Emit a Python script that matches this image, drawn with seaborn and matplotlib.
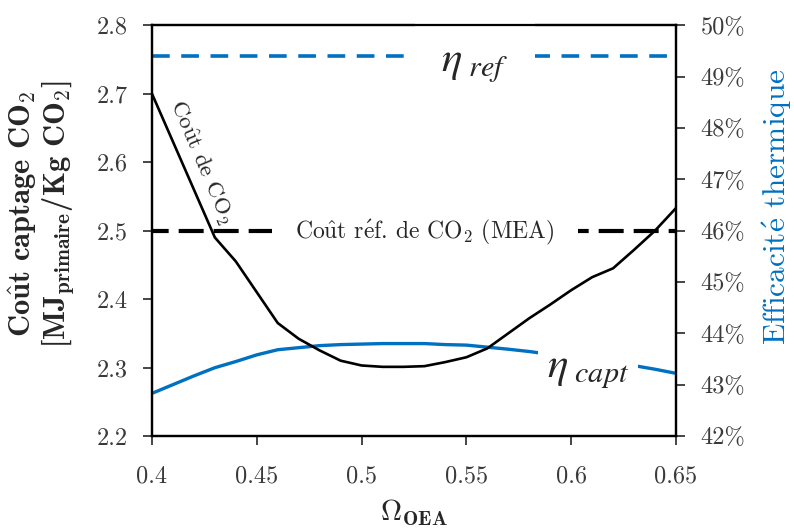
import numpy as np
import pandas as pd
import seaborn as sns
import matplotlib.pyplot as plt
from matplotlib.ticker import FuncFormatter, MultipleLocator

# data
omega = [0.40, 0.41, 0.42, 0.43, 0.44, 0.45, 0.46, 0.47, 0.48, 0.49, 0.50, 0.51, 0.52,
         0.53, 0.54, 0.55, 0.56, 0.57, 0.58, 0.59, 0.60, 0.61, 0.62, 0.63, 0.64, 0.65]
cout_co2 = [2.700, 2.630, 2.560, 2.490, 2.455, 2.410, 2.365, 2.342, 2.325, 2.310, 2.303, 2.301, 2.301,
            2.302, 2.308, 2.315, 2.328, 2.350, 2.372, 2.392, 2.413, 2.432, 2.445, 2.472, 2.500, 2.533]
eta_capt = [42.83, 43.00, 43.17, 43.33, 43.45, 43.58, 43.68, 43.72, 43.76, 43.78, 43.79, 43.80, 43.80,
            43.80, 43.78, 43.77, 43.73, 43.69, 43.645, 43.59, 43.535, 43.48, 43.425, 43.37, 43.30, 43.22]
cout_ref = 2.5
eta_ref = 49.4

BLUE = '#0070C0'
GREY = '#3a3a3a'

sns.set_style('ticks')
plt.rcParams['font.family'] = ['cmr10', 'DejaVu Serif']
plt.rcParams['mathtext.fontset'] = 'cm'
plt.rcParams['axes.formatter.use_mathtext'] = True
plt.rcParams['axes.unicode_minus'] = False

# accented letters through mathtext (cmr10 has no accented glyphs)
U_HAT = r'$\mathrm{\^u}$'
E_ACUTE = r"$\mathrm{\'e}$"

df = pd.DataFrame({'omega': omega, 'cout': cout_co2, 'eta': eta_capt})

fig = plt.figure(figsize=(7.94, 5.30), dpi=100)
ax = fig.add_axes([0.1914, 0.1774, 0.66, 0.7749])
ax2 = ax.twinx()

# left axis: cost
sns.lineplot(data=df, x='omega', y='cout', ax=ax, color='black', lw=1.9, zorder=3)
ax.axhline(cout_ref, color='black', lw=3, linestyle=(2, (6, 2.4)), zorder=2)

# right axis: efficiency
sns.lineplot(data=df, x='omega', y='eta', ax=ax2, color=BLUE, lw=2.4, zorder=3)
ax2.axhline(eta_ref, color=BLUE, lw=2.6, linestyle=(0, (4.9, 3.2)), zorder=2)

ax.set_xlim(0.4, 0.65)
ax.set_ylim(2.2, 2.8)
ax2.set_ylim(42, 50)
ax.xaxis.set_major_locator(MultipleLocator(0.05))
ax.yaxis.set_major_locator(MultipleLocator(0.1))
ax2.yaxis.set_major_locator(MultipleLocator(1))
ax.xaxis.set_major_formatter(FuncFormatter(lambda v, p: f'{v:g}'))
ax.yaxis.set_major_formatter(FuncFormatter(lambda v, p: f'{v:.1f}'))
ax2.yaxis.set_major_formatter(FuncFormatter(lambda v, p: f'{v:.0f}%'))

ax.tick_params(axis='x', direction='out', length=6.5, width=1.2, pad=15, labelsize=17.5, labelcolor=GREY)
ax.tick_params(axis='y', direction='out', length=6.5, width=1.2, pad=11, labelsize=17.5, labelcolor=GREY)
ax2.tick_params(axis='y', direction='out', length=6.5, width=1.2, pad=11, labelsize=17.5, labelcolor=GREY)
for a in (ax, ax2):
    for s in a.spines.values():
        s.set_linewidth(1.6)
        s.set_color('black')

ax.set_xlabel(r'$\mathbf{\Omega_{OEA}}$', fontsize=21)
ax.xaxis.set_label_coords(0.5, -0.15)
ax.set_ylabel('Co$\\mathbf{\\^u}$t captage CO$_\\mathbf{2}$\n[MJ$_\\mathbf{primaire}$/Kg CO$_\\mathbf{2}$]',
              family='cmb10', fontweight='bold', fontsize=22, linespacing=1.0)
ax.yaxis.set_label_coords(-0.145, 0.54)
ax2.set_ylabel('')
ax2.text(1.193, 0.557, 'Efficacit' + E_ACUTE + ' thermique', transform=ax2.transAxes, rotation=90,
         ha='center', va='center', color=BLUE, fontsize=22.5)

# annotations
ax.text(0.4232, 2.600, 'Co' + U_HAT + 't de CO$_2$', rotation=-67, ha='center', va='center',
        fontsize=16.5, zorder=5)
ax.text(0.5303, 2.497, 'Co' + U_HAT + 't r' + E_ACUTE + 'f. de CO$_2$ (MEA)', ha='center', va='center',
        fontsize=17, zorder=5, bbox=dict(boxstyle='square,pad=1.0', fc='white', ec='none'))
ax2.text(0.5541, 49.20, r'$\eta_{\ ref}$', ha='center', va='center', fontsize=31, math_fontfamily='stix',
         zorder=5, bbox=dict(boxstyle='square,pad=0.6', fc='white', ec='none'))
ax2.text(0.608, 43.25, r'$\eta_{\ capt}$', ha='center', va='center', fontsize=31, math_fontfamily='stix',
         zorder=5, bbox=dict(boxstyle='square,pad=0.2', fc='white', ec='none'))

ax2.set_zorder(1)
ax.set_zorder(2)
ax.patch.set_visible(False)

fig.savefig('out.png', dpi=100)
